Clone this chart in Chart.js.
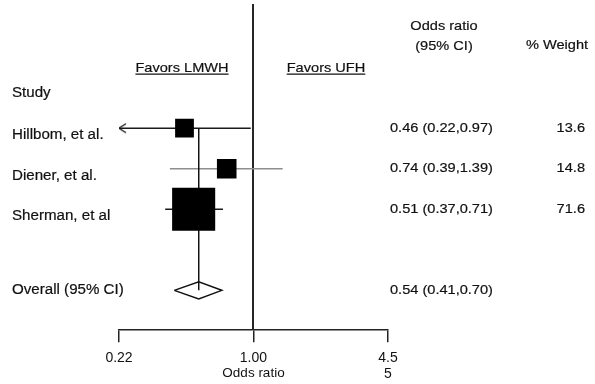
<!DOCTYPE html>
<html><head><meta charset="utf-8">
<script src="https://cdn.jsdelivr.net/npm/chart.js@4.4.1/dist/chart.umd.min.js"></script>
<style>html,body{margin:0;padding:0;background:#fff;}#c{display:block;}</style>
</head><body>
<canvas id="c" width="595" height="384"></canvas>
<script>
// ---- data ----
const studies = ["Hillbom, et al.", "Diener, et al.", "Sherman, et al"];
const oddsRatio = [0.46, 0.74, 0.51];
const ciLower = [0.22, 0.39, 0.37];
const ciUpper = [0.97, 1.39, 0.71];
const weights = [13.6, 14.8, 71.6];
const overallLabel = "Overall (95% CI)";
const overall = [0.54, 0.41, 0.70]; // OR, lower, upper
const tickValues = [0.22, 1.00, 4.55];
const tickLabels = ["0.22", "1.00", ["4.5", "5"]];

// ---- style ----
const FONT = "'Liberation Sans', Arial, Helvetica, sans-serif";
const INK = '#111';
const ciColors = ['#1a1a1a', '#8e8e8e', '#1a1a1a'];
const X_MIN = tickValues[0], X_MAX = tickValues[tickValues.length - 1];
const overallRow = studies.length + 1;

function fmt(v) { return v.toFixed(2); }

function makeArrow() {
  const c = document.createElement('canvas');
  c.width = 20; c.height = 12;
  const g = c.getContext('2d');
  g.strokeStyle = '#1a1a1a'; g.lineWidth = 1.4;
  g.beginPath(); g.moveTo(17, 1.5); g.lineTo(10, 6); g.lineTo(17, 10.5); g.stroke();
  return c;
}
const arrow = makeArrow();

const datasets = [];
datasets.push({
  data: studies.map((s, i) => ({ x: oddsRatio[i], y: i })),
  showLine: false, pointStyle: 'rect',
  pointRadius: ctx => 3.6 * Math.sqrt(weights[ctx.dataIndex]),
  backgroundColor: '#000', borderColor: '#000', borderWidth: 0, order: 0
});
datasets.push({
  data: [{ x: overall[0], y: 0 }, { x: overall[0], y: overallRow }],
  showLine: true, borderColor: '#111', borderWidth: 1.5, pointRadius: 0, order: 1
});
const dh = 0.21;
datasets.push({
  data: [
    { x: overall[1], y: overallRow }, { x: overall[0], y: overallRow - dh },
    { x: overall[2], y: overallRow }, { x: overall[0], y: overallRow + dh },
    { x: overall[1], y: overallRow }
  ],
  showLine: true, borderColor: '#111', borderWidth: 1.5, pointRadius: 0,
  borderJoinStyle: 'miter', fill: false, order: 1
});
studies.forEach((s, i) => {
  datasets.push({
    data: [{ x: ciLower[i], y: i }, { x: ciUpper[i], y: i }],
    showLine: true, borderColor: ciColors[i], borderWidth: 1.5,
    pointStyle: arrow,
    pointRadius: ctx => (ctx.dataIndex === 0 && ciLower[i] <= X_MIN) ? 6 : 0,
    order: 2
  });
});

const textPlugin = {
  id: 'forestText',
  afterDraw(chart) {
    const { ctx, scales: { y } } = chart;
    const put = (str, px, py, align, size, sx, underline) => {
      ctx.save();
      ctx.font = size + 'px ' + FONT;
      ctx.fillStyle = INK;
      ctx.strokeStyle = INK;
      ctx.lineWidth = 0.2;
      ctx.textBaseline = 'middle';
      ctx.textAlign = align;
      ctx.translate(px, py);
      ctx.scale(sx, 1);
      ctx.fillText(str, 0, 0);
      ctx.strokeText(str, 0, 0);
      if (underline) {
        const w = ctx.measureText(str).width;
        let x0 = align === 'center' ? -w / 2 : (align === 'right' ? -w : 0);
        ctx.lineWidth = 1.2;
        ctx.beginPath(); ctx.moveTo(x0, size * 0.45); ctx.lineTo(x0 + w, size * 0.45); ctx.stroke();
      }
      ctx.restore();
    };
    const SX = 1.08;
    put('Study', 12, 93, 'left', 14, SX);
    put('Favors LMWH', 182, 68, 'center', 13.5, SX, true);
    put('Favors UFH', 326, 68, 'center', 13.5, SX, true);
    put('Odds ratio', 444, 26, 'center', 13.5, SX);
    put('(95% CI)', 444, 46, 'center', 13.5, SX);
    put('% Weight', 557, 45, 'center', 13.5, SX);
    studies.forEach((s, i) => {
      const py = y.getPixelForValue(i);
      put(s, 12, py + 7, 'left', 14, SX);
      put(fmt(oddsRatio[i]) + ' (' + fmt(ciLower[i]) + ',' + fmt(ciUpper[i]) + ')', 390, py, 'left', 13.5, SX);
      put(weights[i].toFixed(1), 585, py, 'right', 13.5, SX);
    });
    const po = y.getPixelForValue(overallRow);
    put(overallLabel, 12, po, 'left', 14, SX);
    put(fmt(overall[0]) + ' (' + fmt(overall[1]) + ',' + fmt(overall[2]) + ')', 390, po, 'left', 13.5, SX);
  }
};

new Chart(document.getElementById('c'), {
  type: 'scatter',
  data: { datasets },
  options: {
    responsive: false, animation: false,
    layout: { autoPadding: false, padding: { left: 119, right: 207, top: 5, bottom: 3 } },
    plugins: { legend: { display: false }, tooltip: { enabled: false } },
    scales: {
      x: {
        type: 'logarithmic', min: X_MIN, max: X_MAX, position: 'bottom',
        afterBuildTicks: s => { s.ticks = tickValues.map(v => ({ value: v })); },
        ticks: {
          autoSkip: false, maxRotation: 0, minRotation: 0, padding: 8, color: INK,
          font: { family: FONT, size: 14, lineHeight: 1.15 },
          callback: (v, i) => tickLabels[i]
        },
        grid: { display: true, drawOnChartArea: false, drawTicks: true, tickLength: 13, color: '#222', lineWidth: 1.5 },
        border: { display: true, color: '#222', width: 1.5 },
        title: { display: true, text: 'Odds ratio', color: INK,
          font: { family: FONT, size: 13.5, lineHeight: 1.15 }, padding: { top: -25, bottom: 0 } }
      },
      y: {
        type: 'linear', min: -3.04, max: 4.96, reverse: true, position: { x: 1 },
        ticks: { display: false },
        grid: { display: false, drawTicks: false },
        border: { display: true, color: '#262626', width: 2 }
      }
    }
  },
  plugins: [textPlugin]
});
</script>
</body></html>
